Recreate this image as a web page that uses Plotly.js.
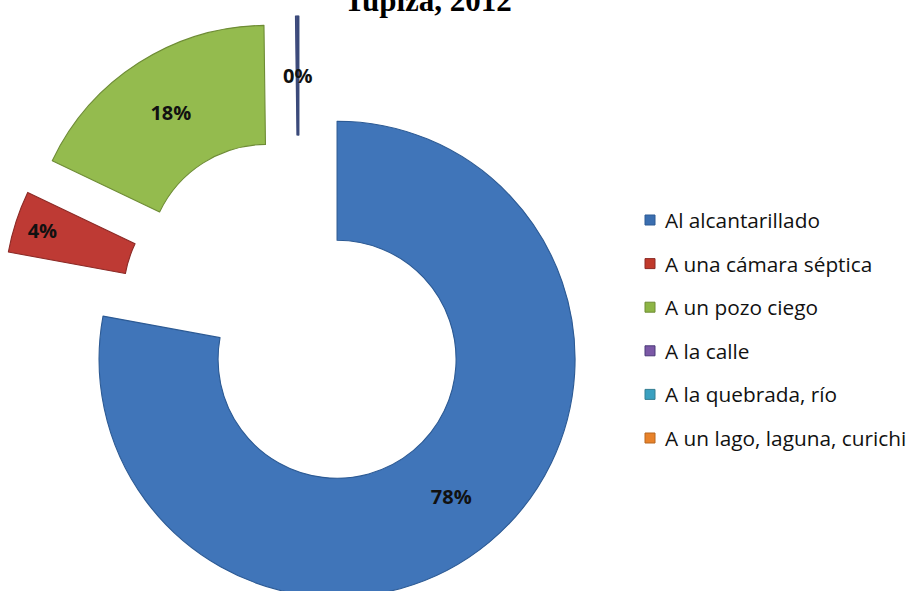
<!DOCTYPE html>
<html>
<head>
<meta charset="utf-8">
<script src="https://cdn.plot.ly/plotly-3.0.1.min.js"></script>
<style>
  html, body { margin: 0; padding: 0; overflow: hidden; background: #ffffff; }
  #chart { width: 911px; height: 640px; }
</style>
</head>
<body>
<div id="chart"></div>
<script>
// ---- Data ----
const labels = [
  "Al alcantarillado",
  "A una cámara séptica",
  "A un pozo ciego",
  "A la calle",
  "A la quebrada, río",
  "A un lago, laguna, curichi"
];
const shares = [77.9, 4.2, 17.7, 0.1, 0.05, 0.05];   // percent of households
const chartTitle = "Tupiza, 2012";

// ---- Styles ----
const fillColors = ["#4075B9", "#BE3A34", "#94BB4E", "#5E5A9A", "#4A6A9E", "#4A5A8A"];
const edgeColors = ["#2C5A94", "#8C2A26", "#6E8C35", "#3B4A7A", "#3B4A7A", "#3B4A7A"];
const legendSwatch = ["#3A6EB0", "#C0392B", "#8DB545", "#7B58A6", "#3AA0C0", "#E8822A"];
const legendEdge = ["#2C5A94", "#8C2A26", "#6E8C35", "#4A3A78", "#357E92", "#B8661F"];

const W = 911, H = 640;
const M = {l: 0, r: 0, t: 16, b: 29};
const plotH = H - M.t - M.b;
const plotW = W - M.l - M.r;
function px2paperX(px) { return (px - M.l) / plotW; }
function px2paperY(py) { return 1 - (py - M.t) / plotH; }

const PULL = 0.25, HOLE = 0.5;
const domX = [px2paperX(1.5), px2paperX(596.5)];
const total = shares.reduce((a, b) => a + b, 0);
const isTiny = shares.map(v => v / total < 0.005);

const labelFont = {family: "Open Sans, sans-serif", size: 20, weight: 700, color: "#111111"};

const trace = {
  type: "pie",
  labels: labels,
  values: shares,
  sort: false,
  direction: "clockwise",
  rotation: 0,
  hole: HOLE,
  pull: labels.map(() => PULL),
  domain: {x: domX, y: [0, 1]},
  marker: {colors: fillColors, line: {color: edgeColors, width: 1.1}},
  texttemplate: isTiny.map(t => t ? "" : "%{percent:.0%}"),
  textposition: "inside",
  insidetextorientation: "horizontal",
  textfont: labelFont,
  hovertemplate: "%{label}: %{percent:.1%}<extra></extra>",
  showlegend: false
};

// custom legend (wide row spacing as in the reference)
const legX = 645, legY0 = 220, legStep = 43.6, sq = 10;
const annotations = [];
const shapes = [];
labels.forEach((lab, i) => {
  const cy = legY0 + i * legStep;
  shapes.push({
    type: "rect", xref: "paper", yref: "paper",
    x0: px2paperX(legX), x1: px2paperX(legX + sq),
    y0: px2paperY(cy - sq / 2), y1: px2paperY(cy + sq / 2),
    fillcolor: legendSwatch[i], line: {color: legendEdge[i], width: 1}
  });
  annotations.push({
    text: lab, xref: "paper", yref: "paper",
    x: px2paperX(legX + sq + 8), y: px2paperY(cy),
    xanchor: "left", yanchor: "middle", showarrow: false,
    font: {family: "Open Sans, sans-serif", size: 20.8, color: "#111111"}
  });
});

const layout = {
  width: W, height: H,
  margin: M,
  paper_bgcolor: "#ffffff",
  title: {
    text: "<b>" + chartTitle + "</b>",
    font: {family: "Liberation Serif, Times New Roman, serif", size: 31, color: "#000000"},
    x: 428 / W, xanchor: "center",
    y: 1, yref: "container", yanchor: "middle"
  },
  uniformtext: {mode: "show", minsize: 20},
  showlegend: false,
  shapes: shapes,
  annotations: annotations
};

Plotly.newPlot("chart", [trace], layout, {displayModeBar: false}).then(gd => {
  // label of the first tiny slice, placed at mid-ring of its (pulled) position,
  // using the pie geometry that Plotly computed
  const idx = isTiny.indexOf(true);
  if (idx < 0) return;
  const cd = gd.calcdata && gd.calcdata[0];
  let cx, cy, r;
  if (cd && cd[0] && cd[0].r) { cx = cd[0].cx; cy = cd[0].cy; r = cd[0].r; }
  else {
    cx = M.l + plotW * (domX[0] + domX[1]) / 2; cy = M.t + plotH / 2;
    r = Math.min(plotW * (domX[1] - domX[0]), plotH) / 2 / (1 + PULL);
  }
  let before = 0;
  for (let k = 0; k < idx; k++) before += shares[k];
  let tinySum = 0;
  for (let k = idx; k < shares.length; k++) if (isTiny[k]) tinySum += shares[k];
  const mid = (before + tinySum / 2) / total * 2 * Math.PI;
  const rr = (PULL + 1 - (1 - HOLE) / 2) * r;
  const x = cx + rr * Math.sin(mid), y = cy - rr * Math.cos(mid);
  const ann = gd.layout.annotations.slice();
  ann.push({
    text: Math.round(shares[idx] / total * 100) + "%",
    xref: "paper", yref: "paper", x: px2paperX(x), y: px2paperY(y),
    xanchor: "center", yanchor: "middle", showarrow: false,
    font: {family: labelFont.family, size: labelFont.size, weight: 700, color: labelFont.color}
  });
  Plotly.relayout(gd, {annotations: ann});
});
</script>
</body>
</html>
